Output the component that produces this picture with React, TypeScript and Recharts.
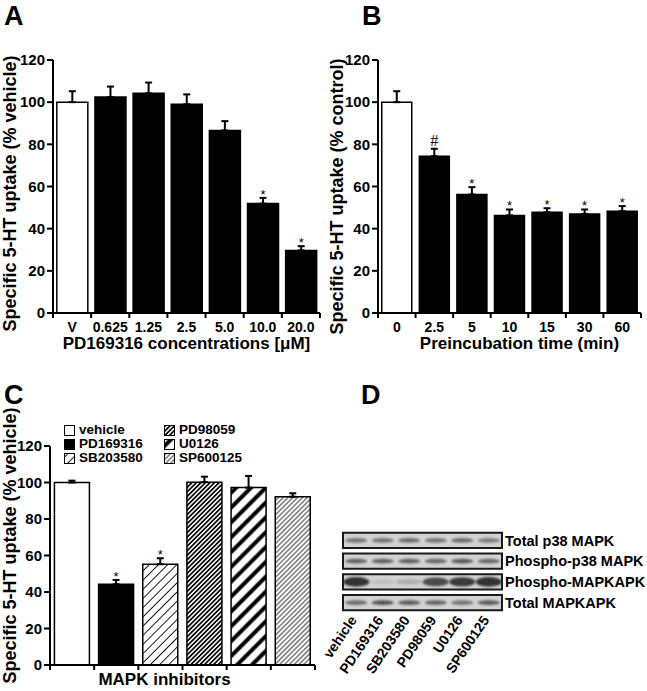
import React from 'react';
import {
  BarChart, Bar, XAxis, YAxis, ErrorBar, Cell, LabelList, Legend,
  ScatterChart, Scatter, ReferenceArea,
} from 'recharts';

// ---- data -------------------------------------------------------------
const yTicks = [0, 20, 40, 60, 80, 100, 120];

// A: PD169316 concentration series
const concLabels = ['V', '0.625', '1.25', '2.5', '5.0', '10.0', '20.0'];
const concUptake = [100, 102.4, 104.2, 99, 86.6, 51.9, 29.7];
const concSem = [5.2, 5, 5.1, 4.7, 4.4, 2.7, 2];
const concMarks = ['', '', '', '', '', '*', '*'];

// B: preincubation time series
const timeLabels = ['0', '2.5', '5', '10', '15', '30', '60'];
const timeUptake = [100, 74.4, 56.2, 46.3, 47.8, 47, 48.3];
const timeSem = [5.2, 3.5, 3.5, 2.8, 1.9, 2.1, 2.4];
const timeMarks = ['', '#', '*', '*', '*', '*', '*'];

// C: MAPK inhibitors
const inhibitors = ['vehicle', 'PD169316', 'SB203580', 'PD98059', 'U0126', 'SP600125'];
const inhibitorUptake = [100, 44.2, 55.2, 100.2, 97.2, 92.2];
const inhibitorSem = [1, 2.4, 3.3, 3, 6.4, 1.9];
const inhibitorMarks = ['', '*', '*', '', '', ''];

// D: western blot band intensities (0..1), lanes follow `inhibitors`
const blotRows = ['Total p38 MAPK', 'Phospho-p38 MAPK', 'Phospho-MAPKAPK', 'Total MAPKAPK'];
const bandsTotalP38 = [0.55, 0.55, 0.6, 0.55, 0.6, 0.5];
const bandsPhosphoP38 = [0.65, 0.65, 0.65, 0.62, 0.7, 0.62];
const bandsPhosphoMk = [0.95, 0.1, 0.22, 0.8, 0.9, 0.95];
const bandsTotalMk = [0.6, 0.75, 0.7, 0.65, 0.55, 0.7];

// ---- helpers ----------------------------------------------------------
const FONT = '"Liberation Sans", Arial, Helvetica, sans-serif';
const AXIS = { stroke: '#000', strokeWidth: 2 };

const toRows = (labels: string[], values: number[], sem: number[], marks: string[]) =>
  labels.map((label, i) => ({ label, value: values[i], err: [0, sem[i]], mark: marks[i] }));

const concData = toRows(concLabels, concUptake, concSem, concMarks);
const timeData = toRows(timeLabels, timeUptake, timeSem, timeMarks);
const inhibitorData = toRows(inhibitors, inhibitorUptake, inhibitorSem, inhibitorMarks);

const blotData = [bandsTotalP38, bandsPhosphoP38, bandsPhosphoMk, bandsTotalMk].flatMap((lanes, row) =>
  lanes.map((level, lane) => ({ lane, row, level }))
);

// tick marks sit on category boundaries, labels in the middle
const BandTick = (props: any) => {
  const { x, y, payload, fontSize, band, showLabel } = props;
  const idx = payload?.index ?? props.index ?? 0;
  const half = payload?.offset || band / 2;
  return (
    <g>
      {idx === 0 && <line x1={x - half} x2={x - half} y1={y} y2={y + 5} stroke="#000" strokeWidth={2} />}
      <line x1={x + half} x2={x + half} y1={y} y2={y + 5} stroke="#000" strokeWidth={2} />
      {showLabel && (
        <text x={x} y={y + 19} textAnchor="middle" fontSize={fontSize} fontWeight="bold" fill="#000" fontFamily={FONT}>
          {payload.value}
        </text>
      )}
    </g>
  );
};

const VTitle = (props: any) => {
  const { viewBox, text, cx, dy, size } = props;
  const cy = viewBox.y + viewBox.height / 2 + (dy || 0);
  return (
    <text
      transform={`translate(${cx},${cy}) rotate(-90)`}
      textAnchor="middle"
      dominantBaseline="central"
      fontSize={size}
      fontWeight="bold"
      fontFamily={FONT}
      fill="#000"
    >
      {text}
    </text>
  );
};

const HTitle = (props: any) => {
  const { viewBox, text, dx, baseline, size } = props;
  return (
    <text
      x={viewBox.x + viewBox.width / 2 + (dx || 0)}
      y={viewBox.y + baseline}
      textAnchor="middle"
      fontSize={size}
      fontWeight="bold"
      fontFamily={FONT}
      fill="#000"
    >
      {text}
    </text>
  );
};

// significance marks placed just above the error bar
const MarkLabel = (props: any) => {
  const { values, sem, index, value } = props;
  const vb = props.viewBox ?? props;
  const { x, y, width, height } = vb;
  if (!value) return null;
  const pxPerUnit = Math.abs(height) / values[index];
  const top = y - sem[index] * pxPerUnit;
  const isHash = value === '#';
  return (
    <text
      x={x + width / 2}
      y={isHash ? top - 3 : top + 1}
      textAnchor="middle"
      fontSize={isHash ? 16 : 13}
      fontFamily={isHash ? '"Liberation Serif", serif' : FONT}
      fill="#000"
    >
      {value}
    </text>
  );
};

const PanelLetter = ({ letter, left, top }: { letter: string; left: number; top: number }) => (
  <div style={{ position: 'absolute', left, top, fontSize: 27, fontWeight: 'bold', fontFamily: FONT, lineHeight: '27px' }}>
    {letter}
  </div>
);

const inhibitorFills = ['#fff', '#000', 'url(#patSB)', 'url(#patPD98)', 'url(#patU0126)', 'url(#patSP)'];

const StripePattern = ({ id, size, line }: { id: string; size: number; line: number }) => (
  <pattern id={id} width={size} height={size} patternUnits="userSpaceOnUse" patternTransform="rotate(45)">
    <rect width={size} height={size} fill="#fff" />
    <line x1={size / 2} y1={0} x2={size / 2} y2={size} stroke="#000" strokeWidth={line} />
  </pattern>
);

const InhibitorLegend = () => (
  <div
    style={{
      display: 'grid',
      gridTemplateRows: 'repeat(3, 14px)',
      gridAutoFlow: 'column',
      gridTemplateColumns: '100px 110px',
      fontFamily: FONT,
      fontWeight: 'bold',
      fontSize: 13.5,
      lineHeight: '14px',
    }}
  >
    {inhibitors.map((name, i) => (
      <div key={name} style={{ display: 'flex', alignItems: 'center', whiteSpace: 'nowrap', height: 14 }}>
        <svg width={11} height={11} style={{ marginRight: 4 }}>
          <rect x={0.5} y={0.5} width={10} height={10} fill={inhibitorFills[i]} stroke="#000" strokeWidth={1} />
        </svg>
        {name}
      </div>
    ))}
  </div>
);

const BlotBand = (props: any) => {
  const { cx, cy, payload } = props;
  const big = payload.row === 2;
  return (
    <ellipse
      cx={cx}
      cy={cy}
      rx={big ? 13 : 11}
      ry={big ? 2 + 3 * payload.level : 2.4}
      fill="#2a2a2a"
      opacity={payload.level}
      filter="url(#blotBlur)"
    />
  );
};

const LaneTick = (props: any) => {
  const { x, y, payload } = props;
  return (
    <g transform={`translate(${x + 1},${y + 7})`}>
      <text x={0} y={0} transform="rotate(-56)" textAnchor="end" fontSize={14} fontWeight="bold" fontFamily={FONT} fill="#000">
        {inhibitors[payload.value]}
      </text>
    </g>
  );
};

const yTickStyle = { fontSize: 15, fontWeight: 'bold', fill: '#000', fontFamily: FONT };

export default function App() {
  return (
    <div style={{ position: 'absolute', left: 0, top: 0, width: 647, height: 691, background: '#fff', fontFamily: FONT }}>
      <PanelLetter letter="A" left={4} top={3} />
      <PanelLetter letter="B" left={362} top={3} />
      <PanelLetter letter="C" left={4} top={382} />
      <PanelLetter letter="D" left={361} top={382} />

      {/* A */}
      <div style={{ position: 'absolute', left: 0, top: 0 }}>
        <BarChart width={330} height={360} data={concData} margin={{ top: 60, right: 10, left: 13, bottom: 7 }} barCategoryGap="10%">
          <XAxis
            dataKey="label"
            interval={0}
            height={40}
            axisLine={AXIS}
            tickLine={false}
            tickSize={0}
            tickMargin={0}
            tick={<BandTick fontSize={14} band={38} showLabel />}
            label={<HTitle text="PD169316 concentrations  [μM]" baseline={36} size={17} />}
          />
          <YAxis
            domain={[0, 120]}
            ticks={yTicks}
            interval={0}
            width={40}
            axisLine={AXIS}
            tickLine={AXIS}
            tickSize={6}
            tickMargin={2}
            tick={yTickStyle}
            label={<VTitle text="Specific 5-HT uptake (% vehicle)" cx={10} dy={7} size={18} />}
          />
          <Bar dataKey="value" stroke="#000" strokeWidth={1.5} isAnimationActive={false}>
            {concData.map((d, i) => (
              <Cell key={d.label} fill={i === 0 ? '#fff' : '#000'} />
            ))}
            <ErrorBar dataKey="err" width={3.5} strokeWidth={2} stroke="#000" />
            <LabelList dataKey="mark" content={<MarkLabel values={concUptake} sem={concSem} />} />
          </Bar>
        </BarChart>
      </div>

      {/* B */}
      <div style={{ position: 'absolute', left: 320, top: 0 }}>
        <BarChart width={327} height={360} data={timeData} margin={{ top: 60, right: 6, left: 18, bottom: 7 }} barCategoryGap="10%">
          <XAxis
            dataKey="label"
            interval={0}
            height={40}
            axisLine={AXIS}
            tickLine={false}
            tickSize={0}
            tickMargin={0}
            tick={<BandTick fontSize={14} band={37.6} showLabel />}
            label={<HTitle text="Preincubation time (min)" dx={10} baseline={36} size={17} />}
          />
          <YAxis
            domain={[0, 120]}
            ticks={yTicks}
            interval={0}
            width={40}
            axisLine={AXIS}
            tickLine={AXIS}
            tickSize={6}
            tickMargin={2}
            tick={yTickStyle}
            label={<VTitle text="Specific 5-HT uptake (% control)" cx={17} dy={10} size={18} />}
          />
          <Bar dataKey="value" stroke="#000" strokeWidth={1.5} isAnimationActive={false}>
            {timeData.map((d, i) => (
              <Cell key={d.label} fill={i === 0 ? '#fff' : '#000'} />
            ))}
            <ErrorBar dataKey="err" width={3.5} strokeWidth={2} stroke="#000" />
            <LabelList dataKey="mark" content={<MarkLabel values={timeUptake} sem={timeSem} />} />
          </Bar>
        </BarChart>
      </div>

      {/* C */}
      <div style={{ position: 'absolute', left: 0, top: 360 }}>
        <BarChart width={330} height={331} data={inhibitorData} margin={{ top: 86, right: 15, left: 10, bottom: 6 }} barCategoryGap="10%">
          <defs>
            <StripePattern id="patSB" size={6.5} line={0.9} />
            <StripePattern id="patPD98" size={3.2} line={1.7} />
            <StripePattern id="patU0126" size={10.5} line={4} />
            <StripePattern id="patSP" size={3.4} line={0.8} />
          </defs>
          <Legend
            layout="horizontal"
            verticalAlign="middle"
            align="center"
            content={<InhibitorLegend />}
            wrapperStyle={{ left: 64, top: 63, width: 230 }}
          />
          <XAxis
            dataKey="label"
            interval={0}
            height={20}
            axisLine={AXIS}
            tickLine={false}
            tickSize={0}
            tickMargin={0}
            tick={<BandTick band={44} showLabel={false} />}
            label={<HTitle text="MAPK inhibitors" dx={-18} baseline={20} size={17} />}
          />
          <YAxis
            domain={[0, 120]}
            ticks={yTicks}
            interval={0}
            width={40}
            axisLine={AXIS}
            tickLine={AXIS}
            tickSize={6}
            tickMargin={2}
            tick={yTickStyle}
            label={<VTitle text="Specific 5-HT uptake (% vehicle)" cx={10} dy={-10} size={18} />}
          />
          <Bar dataKey="value" stroke="#000" strokeWidth={1.5} isAnimationActive={false}>
            {inhibitorData.map((d, i) => (
              <Cell key={d.label} fill={inhibitorFills[i]} />
            ))}
            <ErrorBar dataKey="err" width={3.5} strokeWidth={2} stroke="#000" />
            <LabelList dataKey="mark" content={<MarkLabel values={inhibitorUptake} sem={inhibitorSem} />} />
          </Bar>
        </BarChart>
      </div>

      {/* D */}
      <div style={{ position: 'absolute', left: 300, top: 500 }}>
        <ScatterChart width={347} height={191} margin={{ top: 30, right: 0, left: 43, bottom: 0 }}>
          <defs>
            <filter id="blotBlur" x="-50%" y="-100%" width="200%" height="300%">
              <feGaussianBlur stdDeviation="1.3" />
            </filter>
          </defs>
          <XAxis
            type="number"
            dataKey="lane"
            domain={[-0.5, 5.5]}
            ticks={[0, 1, 2, 3, 4, 5]}
            interval={0}
            height={78}
            axisLine={false}
            tickLine={false}
            tickSize={0}
            tickMargin={0}
            tick={<LaneTick />}
          />
          <YAxis
            type="number"
            dataKey="row"
            orientation="right"
            reversed
            domain={[-0.5, 3.5]}
            ticks={[0, 1, 2, 3]}
            interval={0}
            width={145}
            axisLine={false}
            tickLine={false}
            tickSize={0}
            tickMargin={3}
            tickFormatter={(v: number) => blotRows[v]}
            tick={{ fontSize: 14.5, fontWeight: 'bold', fill: '#000', fontFamily: FONT, textAnchor: 'start' }}
          />
          {blotRows.map((name, r) => (
            <ReferenceArea
              key={name}
              x1={-0.5}
              x2={5.5}
              y1={r - 0.37}
              y2={r + 0.37}
              fill="#d2d2d2"
              fillOpacity={1}
              stroke="#1a1a1a"
              strokeWidth={2}
            />
          ))}
          <Scatter data={blotData} shape={<BlotBand />} isAnimationActive={false} />
        </ScatterChart>
      </div>
    </div>
  );
}
